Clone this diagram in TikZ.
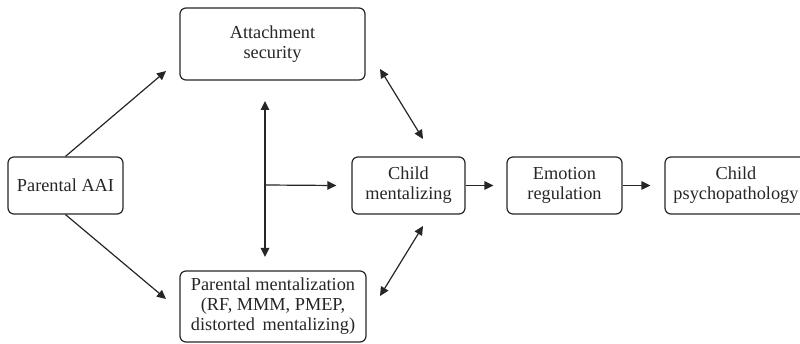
\documentclass[tikz,border=0pt]{standalone}
\usepackage{fontspec}
\setmainfont{Liberation Serif}
\usetikzlibrary{arrows.meta}
\begin{document}
\begin{tikzpicture}[x=1pt,y=-1pt,
  box/.style={draw=black!85,line width=1.2pt,rounded corners=6pt,align=center,
    inner sep=0pt,font=\fontsize{18.3}{20}\selectfont,text=black!85},
  conn/.style={draw=black!85,line width=1.2pt,-{Triangle[length=9pt,width=8.5pt]}},
  dconn/.style={draw=black!85,line width=1.2pt,{Triangle[length=9pt,width=8.5pt]}-{Triangle[length=9pt,width=8.5pt]}}]
\useasboundingbox (0,0) rectangle (800,344);
\begin{scope}
\clip (0,0) rectangle (800,344);
\node[box,minimum width=185pt,minimum height=72pt] (att) at (272.5,44) {Attachment\\security};
\node[box,minimum width=115pt,minimum height=57pt] (aai) at (65.5,185.5) {Parental AAI};
\node[box,minimum width=186pt,minimum height=71pt] (pm) at (273,306.5) {Parental mentalization\\(RF, MMM, PMEP,\\distorted\, mentalizing)};
\node[box,minimum width=113pt,minimum height=57pt] (cm) at (408.5,185.5) {Child\\mentalizing};
\node[box,minimum width=115pt,minimum height=57pt] (er) at (564.5,185.5) {Emotion\\regulation};
\node[box,minimum width=142pt,minimum height=57pt] (cp) at (736,185.5) {Child\\psychopathology};
\end{scope}
\coordinate (a1) at (166,71);
\coordinate (a2) at (166,299);
\coordinate (vt) at (265,101);
\coordinate (vb) at (265,257);
\coordinate (vm) at (265,185);
\coordinate (d1s) at (380,69);
\coordinate (d1e) at (423,139);
\coordinate (d2s) at (380,296);
\coordinate (d2e) at (423,226);
\draw[conn] (aai.north) -- (a1);
\draw[conn] (aai.south) -- (a2);
\draw[dconn,line width=1.6pt] (vt) -- (vb);
\draw[conn] (vm) -- ([xshift=-15pt]cm.west);
\draw[dconn] (d1s) -- (d1e);
\draw[dconn] (d2s) -- (d2e);
\draw[conn] (cm.east) -- ([xshift=-13pt]er.west);
\draw[conn] (er.east) -- ([xshift=-14pt]cp.west);
\end{tikzpicture}
\end{document}
